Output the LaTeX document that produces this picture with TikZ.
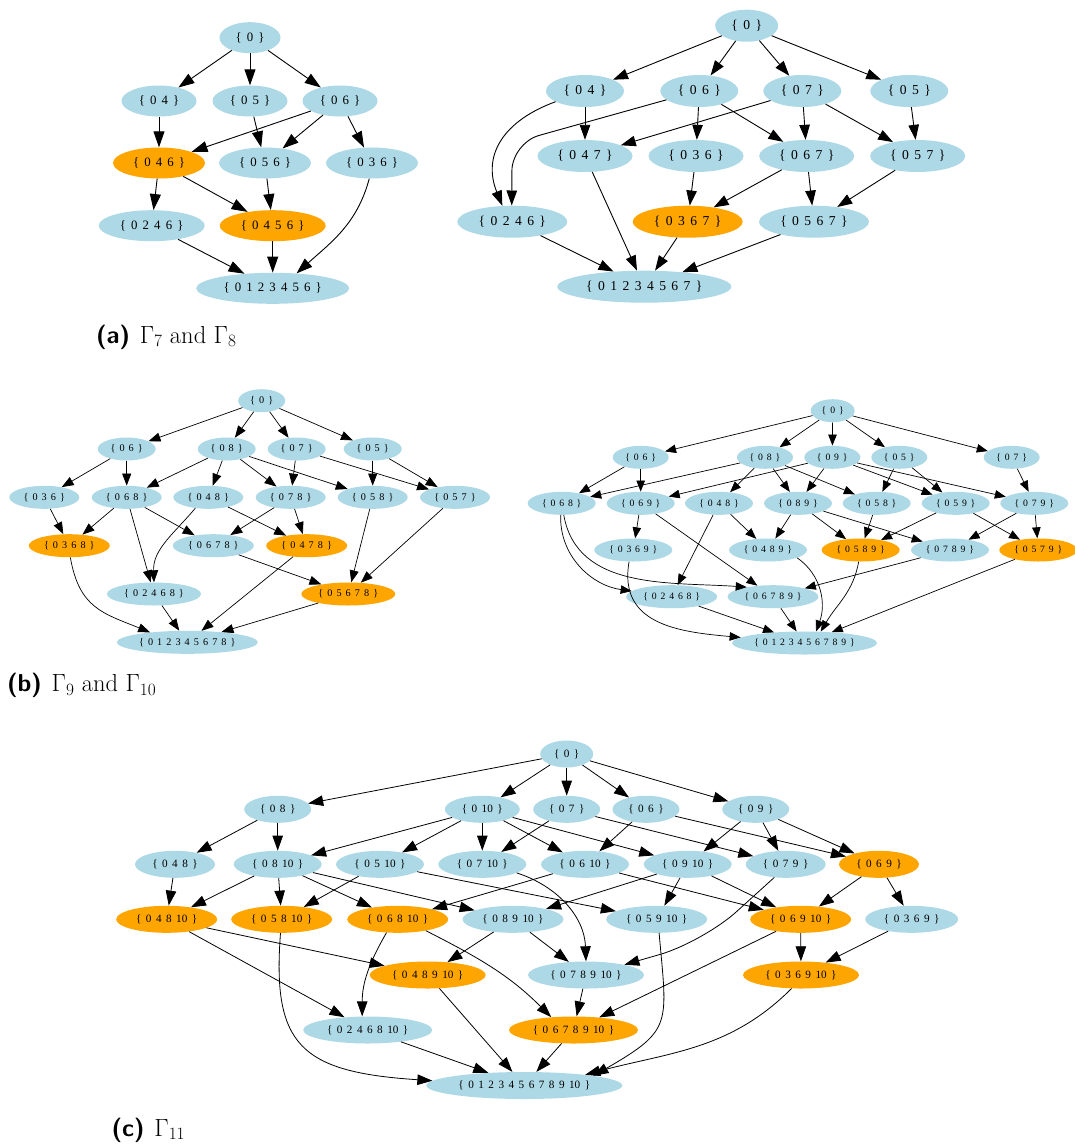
\documentclass[tikz,border=0pt]{standalone}
\usepackage{fontspec}
\usetikzlibrary{shapes.geometric,arrows.meta}
\newfontfamily\lblfont{Liberation Serif}
\definecolor{lb}{HTML}{ADD8E6}
\definecolor{og}{HTML}{FFA500}
\tikzset{
  nd/.style={ellipse, fill=lb, inner sep=0pt, text=black},
  hl/.style={fill=og},
  W/.style={minimum width=#1},
  fa/.style={nd, minimum height=31, font={\lblfont\fontsize{12.8}{14}\selectfont\spaceskip=0.4em\relax}},
  fb/.style={nd, minimum height=32, font={\lblfont\fontsize{13.6}{15}\selectfont\spaceskip=0.4em\relax}},
  fc/.style={nd, minimum height=23, font={\lblfont\fontsize{10.2}{12}\selectfont\spaceskip=0.4em\relax}},
  fd/.style={nd, minimum height=23, font={\lblfont\fontsize{9.7}{11}\selectfont\spaceskip=0.4em\relax}},
  fe/.style={nd, minimum height=27, font={\lblfont\fontsize{11.2}{13}\selectfont\spaceskip=0.4em\relax}},
  ea/.style={-{Triangle[length=16pt,width=11pt]}, line width=0.9pt},
  eb/.style={-{Triangle[length=15pt,width=10.5pt]}, line width=0.9pt},
  ec/.style={-{Triangle[length=12pt,width=9pt]}, line width=0.7pt},
  ed/.style={-{Triangle[length=11pt,width=8.5pt]}, line width=0.7pt},
  ee/.style={-{Triangle[length=15pt,width=10.5pt]}, line width=0.8pt},
  captxt/.style={anchor=base west, inner sep=0pt, font=\fontsize{24.5}{28}\selectfont},
}
\begin{document}
\begin{tikzpicture}[x=1pt,y=1pt]
\useasboundingbox (0,0) rectangle (1075,-1144);
% ---------------- (a) left
\node[fa,W=61] (a0) at (250,-37.7) {\{ 0 \}};
\node[fa,W=75] (a04) at (159,-101) {\{ 0 4 \}};
\node[fa,W=75] (a05) at (250,-101) {\{ 0 5 \}};
\node[fa,W=75] (a06) at (340,-101) {\{ 0 6 \}};
\node[fa,hl,W=92] (a046) at (159,-163) {\{ 0 4 6 \}};
\node[fa,W=92] (a056) at (265,-163) {\{ 0 5 6 \}};
\node[fa,W=92] (a036) at (372,-163) {\{ 0 3 6 \}};
\node[fa,W=106] (a0246) at (151.7,-225.7) {\{ 0 2 4 6 \}};
\node[fa,hl,W=106] (a0456) at (272.7,-225.7) {\{ 0 4 5 6 \}};
\node[fa,W=153] (a0123456) at (272.7,-288.3) {\{ 0 1 2 3 4 5 6 \}};
\draw[ea] (a0) -- (a04);
\draw[ea] (a0) -- (a05);
\draw[ea] (a0) -- (a06);
\draw[ea] (a04) -- (a046);
\draw[ea] (a05) -- (a056);
\draw[ea] (a06) -- (a046);
\draw[ea] (a06) -- (a056);
\draw[ea] (a06) -- (a036);
\draw[ea] (a046) -- (a0246);
\draw[ea] (a046) -- (a0456);
\draw[ea] (a056) -- (a0456);
\draw[ea] (a0246) -- (a0123456);
\draw[ea] (a0456) -- (a0123456);
\draw[ea] (a036.-100) to[out=-105,in=42] (a0123456.32);
% ---------------- (a) right
\node[fb,W=63] (b0) at (746.7,-25.7) {\{ 0 \}};
\node[fb,W=78] (b04) at (585,-91) {\{ 0 4 \}};
\node[fb,W=78] (b06) at (699.3,-91) {\{ 0 6 \}};
\node[fb,W=78] (b07) at (802.3,-91) {\{ 0 7 \}};
\node[fb,W=78] (b05) at (909.3,-91) {\{ 0 5 \}};
\node[fb,W=95] (b047) at (585,-156) {\{ 0 4 7 \}};
\node[fb,W=95] (b036) at (696,-156) {\{ 0 3 6 \}};
\node[fb,W=95] (b067) at (806.7,-156) {\{ 0 6 7 \}};
\node[fb,W=95] (b057) at (917.7,-156) {\{ 0 5 7 \}};
\node[fb,W=110] (b0246) at (512.3,-221.7) {\{ 0 2 4 6 \}};
\node[fb,hl,W=110] (b0367) at (687.7,-221.7) {\{ 0 3 6 7 \}};
\node[fb,W=110] (b0567) at (814,-221.7) {\{ 0 5 6 7 \}};
\node[fb,W=174] (b01234567) at (644.3,-286.7) {\{ 0 1 2 3 4 5 6 7 \}};
\draw[eb] (b0) -- (b04);
\draw[eb] (b0) -- (b06);
\draw[eb] (b0) -- (b07);
\draw[eb] (b0) -- (b05);
\draw[eb] (b04) -- (b047);
\draw[eb] (b04.200) to[out=200,in=112,looseness=1.2] (b0246.122);
\draw[eb, rounded corners=28pt] (b06.195) -- (512,-143) -- (b0246.92);
\draw[eb] (b06) -- (b036);
\draw[eb] (b06) -- (b067);
\draw[eb] (b07) -- (b047);
\draw[eb] (b07) -- (b067);
\draw[eb] (b07) -- (b057);
\draw[eb] (b05) -- (b057);
\draw[eb] (b036) -- (b0367);
\draw[eb] (b067) -- (b0367);
\draw[eb] (b067) -- (b0567);
\draw[eb] (b057) -- (b0567);
\draw[eb] (b0246) -- (b01234567);
\draw[eb] (b047) -- (b01234567);
\draw[eb] (b0367) -- (b01234567);
\draw[eb] (b0567) -- (b01234567);
% ---------------- (b) left
\node[fc,W=47] (c0) at (261.7,-400.7) {\{ 0 \}};
\node[fc,W=58] (c06) at (126.7,-449) {\{ 0 6 \}};
\node[fc,W=58] (c08) at (226.7,-449) {\{ 0 8 \}};
\node[fc,W=58] (c07) at (296.7,-449) {\{ 0 7 \}};
\node[fc,W=58] (c05) at (372.7,-449) {\{ 0 5 \}};
\node[fc,W=70] (c036) at (44.3,-497.3) {\{ 0 3 6 \}};
\node[fc,W=70] (c068) at (126.7,-497.3) {\{ 0 6 8 \}};
\node[fc,W=70] (c048) at (208.3,-497.3) {\{ 0 4 8 \}};
\node[fc,W=70] (c078) at (290.7,-497.3) {\{ 0 7 8 \}};
\node[fc,W=70] (c058) at (372.7,-497.3) {\{ 0 5 8 \}};
\node[fc,W=70] (c057) at (455,-497.3) {\{ 0 5 7 \}};
\node[fc,hl,W=81] (c0368) at (69.3,-545.7) {\{ 0 3 6 8 \}};
\node[fc,W=81] (c0678) at (213.3,-545.7) {\{ 0 6 7 8 \}};
\node[fc,hl,W=81] (c0478) at (306.7,-545.7) {\{ 0 4 7 8 \}};
\node[fc,W=94] (c02468) at (154,-594) {\{ 0 2 4 6 8 \}};
\node[fc,hl,W=94] (c05678) at (348.3,-594) {\{ 0 5 6 7 8 \}};
\node[fc,W=141] (c012345678) at (187.3,-642.3) {\{ 0 1 2 3 4 5 6 7 8 \}};
\draw[ec] (c0) -- (c06);
\draw[ec] (c0) -- (c08);
\draw[ec] (c0) -- (c07);
\draw[ec] (c0) -- (c05);
\draw[ec] (c06) -- (c036);
\draw[ec] (c06) -- (c068);
\draw[ec] (c08) -- (c068);
\draw[ec] (c08) -- (c048);
\draw[ec] (c08) -- (c078);
\draw[ec] (c08) -- (c058);
\draw[ec] (c07) -- (c078);
\draw[ec] (c07) -- (c057);
\draw[ec] (c05) -- (c058);
\draw[ec] (c05) -- (c057);
\draw[ec] (c036) -- (c0368);
\draw[ec] (c068) -- (c0368);
\draw[ec] (c068) -- (c0678);
\draw[ec] (c068) -- (c02468);
\draw[ec] (c048.-140) to[out=-130,in=92] (c02468.90);
\draw[ec] (c048) -- (c0478);
\draw[ec] (c078) -- (c0678);
\draw[ec] (c078) -- (c0478);
\draw[ec] (c058) -- (c05678);
\draw[ec] (c057) -- (c05678);
\draw[ec] (c0678) -- (c05678);
\draw[ec] (c0368.-85) to[out=-80,in=158,looseness=1.2] (c012345678.165);
\draw[ec] (c02468) -- (c012345678);
\draw[ec] (c0478) -- (c012345678);
\draw[ec] (c05678) -- (c012345678);
% ---------------- (b) right
\node[fd,W=44] (d0) at (832.7,-410.7) {\{ 0 \}};
\node[fd,W=56] (d06) at (640.7,-457.3) {\{ 0 6 \}};
\node[fd,W=56] (d08) at (765,-457.3) {\{ 0 8 \}};
\node[fd,W=56] (d09) at (832.3,-457.3) {\{ 0 9 \}};
\node[fd,W=56] (d05) at (899.3,-457.3) {\{ 0 5 \}};
\node[fd,W=56] (d07) at (1011.7,-457.3) {\{ 0 7 \}};
\node[fd,W=68] (d068) at (561.7,-503.3) {\{ 0 6 8 \}};
\node[fd,W=68] (d069) at (640.7,-503.3) {\{ 0 6 9 \}};
\node[fd,W=68] (d048) at (719,-503.3) {\{ 0 4 8 \}};
\node[fd,W=68] (d089) at (798,-503.3) {\{ 0 8 9 \}};
\node[fd,W=68] (d058) at (876.7,-503.3) {\{ 0 5 8 \}};
\node[fd,W=68] (d059) at (955.7,-503.3) {\{ 0 5 9 \}};
\node[fd,W=68] (d079) at (1034.3,-503.3) {\{ 0 7 9 \}};
\node[fd,W=78] (d0369) at (633.3,-550) {\{ 0 3 6 9 \}};
\node[fd,W=78] (d0489) at (768,-550) {\{ 0 4 8 9 \}};
\node[fd,hl,W=78] (d0589) at (860.7,-550) {\{ 0 5 8 9 \}};
\node[fd,W=78] (d0789) at (950,-550) {\{ 0 7 8 9 \}};
\node[fd,hl,W=78] (d0579) at (1038.3,-550) {\{ 0 5 7 9 \}};
\node[fd,W=91] (d02468) at (671.7,-596.7) {\{ 0 2 4 6 8 \}};
\node[fd,W=91] (d06789) at (773,-596.7) {\{ 0 6 7 8 9 \}};
\node[fd,W=145] (d0123456789) at (804.5,-643) {\{ 0 1 2 3 4 5 6 7 8 9 \}};
\draw[ed] (d0) -- (d06);
\draw[ed] (d0) -- (d08);
\draw[ed] (d0) -- (d09);
\draw[ed] (d0) -- (d05);
\draw[ed] (d0) -- (d07);
\draw[ed] (d06) -- (d068);
\draw[ed] (d06) -- (d069);
\draw[ed] (d08) -- (d068);
\draw[ed] (d08) -- (d048);
\draw[ed] (d08) -- (d089);
\draw[ed] (d08) -- (d058);
\draw[ed] (d09) -- (d069);
\draw[ed] (d09) -- (d089);
\draw[ed] (d09) -- (d059);
\draw[ed] (d09) -- (d079);
\draw[ed] (d05) -- (d058);
\draw[ed] (d05) -- (d059);
\draw[ed] (d07) -- (d079);
\draw[ed] (d069) -- (d0369);
\draw[ed] (d069) -- (d06789);
\draw[ed] (d048) -- (d02468);
\draw[ed] (d048) -- (d0489);
\draw[ed] (d089) -- (d0489);
\draw[ed] (d089) -- (d0589);
\draw[ed] (d089) -- (d0789);
\draw[ed] (d058) -- (d0589);
\draw[ed] (d059) -- (d0589);
\draw[ed] (d059) -- (d0579);
\draw[ed] (d079) -- (d0789);
\draw[ed] (d079) -- (d0579);
\draw[ed] (d0789) -- (d06789);
\draw[ed] (d068.-95) to[out=-92,in=172] (d02468.172);
\draw[ed] (d068.-80) to[out=-80,in=176] (d06789.160);
\draw[ed] (d0369.-110) to[out=-100,in=175,looseness=1.2] (d0123456789.175);
\draw[ed] (d0489.-15) to[out=-35,in=70] (d0123456789.45);
\draw[ed] (d0589.-100) to[out=-100,in=60] (d0123456789.35);
\draw[ed] (d0579) -- (d0123456789);
\draw[ed] (d02468) -- (d0123456789);
\draw[ed] (d06789) -- (d0123456789);
% ---------------- (c)
\node[fe,W=53] (e0) at (566.7,-754) {\{ 0 \}};
\node[fe,W=67] (e08) at (277.7,-809.3) {\{ 0 8 \}};
\node[fe,W=75] (e010) at (482.3,-809.3) {\{ 0 10 \}};
\node[fe,W=67] (e07) at (566.7,-809.3) {\{ 0 7 \}};
\node[fe,W=67] (e06) at (646,-809.3) {\{ 0 6 \}};
\node[fe,W=67] (e09) at (755.7,-809.3) {\{ 0 9 \}};
\node[fe,W=80] (e048) at (175,-864.3) {\{ 0 4 8 \}};
\node[fe,W=88] (e0810) at (277.7,-864.3) {\{ 0 8 10 \}};
\node[fe,W=88] (e0510) at (380,-864.3) {\{ 0 5 10 \}};
\node[fe,W=88] (e0710) at (482.3,-864.3) {\{ 0 7 10 \}};
\node[fe,W=88] (e0610) at (585,-864.3) {\{ 0 6 10 \}};
\node[fe,W=88] (e0910) at (687.7,-864.3) {\{ 0 9 10 \}};
\node[fe,W=80] (e079) at (785.7,-864.3) {\{ 0 7 9 \}};
\node[fe,hl,W=80] (e069) at (879,-864.3) {\{ 0 6 9 \}};
\node[fe,hl,W=101] (e04810) at (166.7,-919.3) {\{ 0 4 8 10 \}};
\node[fe,hl,W=101] (e05810) at (281.7,-919.3) {\{ 0 5 8 10 \}};
\node[fe,hl,W=101] (e06810) at (397.7,-919.3) {\{ 0 6 8 10 \}};
\node[fe,W=101] (e08910) at (513,-919.3) {\{ 0 8 9 10 \}};
\node[fe,W=101] (e05910) at (656.7,-919.3) {\{ 0 5 9 10 \}};
\node[fe,hl,W=101] (e06910) at (800.7,-919.3) {\{ 0 6 9 10 \}};
\node[fe,W=93] (e0369) at (911.7,-919.3) {\{ 0 3 6 9 \}};
\node[fe,hl,W=116] (e048910) at (427.7,-975) {\{ 0 4 8 9 10 \}};
\node[fe,W=116] (e078910) at (586,-975) {\{ 0 7 8 9 10 \}};
\node[fe,hl,W=116] (e036910) at (801,-975) {\{ 0 3 6 9 10 \}};
\node[fe,W=129] (e0246810) at (367.7,-1030) {\{ 0 2 4 6 8 10 \}};
\node[fe,hl,W=129] (e0678910) at (573.5,-1030) {\{ 0 6 7 8 9 10 \}};
\node[fe,W=196] (e012345678910) at (524.3,-1085.5) {\{ 0 1 2 3 4 5 6 7 8 9 10 \}};
\draw[ee] (e0) -- (e08);
\draw[ee] (e0) -- (e010);
\draw[ee] (e0) -- (e07);
\draw[ee] (e0) -- (e06);
\draw[ee] (e0) -- (e09);
\draw[ee] (e08) -- (e048);
\draw[ee] (e08) -- (e0810);
\draw[ee] (e010) -- (e0810);
\draw[ee] (e010) -- (e0510);
\draw[ee] (e010) -- (e0710);
\draw[ee] (e010) -- (e0610);
\draw[ee] (e010) -- (e0910);
\draw[ee] (e07) -- (e0710);
\draw[ee] (e07) -- (e079);
\draw[ee] (e06) -- (e0610);
\draw[ee] (e06) -- (e069);
\draw[ee] (e09) -- (e0910);
\draw[ee] (e09) -- (e079);
\draw[ee] (e09) -- (e069);
\draw[ee] (e048) -- (e04810);
\draw[ee] (e0810) -- (e04810);
\draw[ee] (e0810) -- (e05810);
\draw[ee] (e0810) -- (e06810);
\draw[ee] (e0810) -- (e08910);
\draw[ee] (e0510) -- (e05810);
\draw[ee] (e0510) -- (e05910);
\draw[ee] (e0610) -- (e06810);
\draw[ee] (e0610) -- (e06910);
\draw[ee] (e0710.-14) to[out=-18,in=92] (e078910.north);
\draw[ee] (e0910) -- (e08910);
\draw[ee] (e0910) -- (e05910);
\draw[ee] (e0910) -- (e06910);
\draw[ee, rounded corners=45pt] (e079.-131) -- (703,-942) -- (e078910.15);
\draw[ee] (e069) -- (e06910);
\draw[ee] (e069) -- (e0369);
\draw[ee] (e04810) -- (e048910);
\draw[ee] (e04810) -- (e0246810);
\draw[ee] (e05810.-95) .. controls (272,-1045) and (300,-1072) .. (e012345678910.177);
\draw[ee] (e06810.-130) to[out=-120,in=90] (e0246810.112);
\draw[ee] (e06810.-22) to[out=-27,in=135] (e0678910.150);
\draw[ee] (e08910) -- (e048910);
\draw[ee] (e08910) -- (e078910);
\draw[ee] (e05910.-80) to[out=-85,in=30,looseness=1.5] (e012345678910.8);
\draw[ee] (e06910) -- (e0678910);
\draw[ee] (e06910) -- (e036910);
\draw[ee] (e0369) -- (e036910);
\draw[ee] (e078910) -- (e0678910);
\draw[ee] (e048910) -- (e012345678910);
\draw[ee] (e0246810) -- (e012345678910);
\draw[ee] (e0678910) -- (e012345678910);
\draw[ee] (e036910.-125) to[out=-135,in=15] (e012345678910.10);
% ---------------- captions
\node[captxt] (capa) at (96,-343) {{\sffamily\bfseries (a)}\hspace{0.4em}$\Gamma_7$ and $\Gamma_8$};
\node[captxt] (capb) at (7,-691.5) {{\sffamily\bfseries (b)}\hspace{0.4em}$\Gamma_9$ and $\Gamma_{10}$};
\node[captxt] (capc) at (111.5,-1136) {{\sffamily\bfseries (c)}\hspace{0.4em}$\Gamma_{11}$};
\end{tikzpicture}
\end{document}
